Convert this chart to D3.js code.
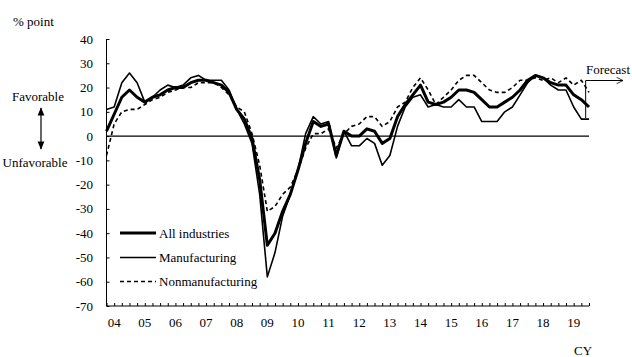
<!DOCTYPE html>
<html><head><meta charset="utf-8">
<script src="https://cdn.jsdelivr.net/npm/d3@7"></script>
<style>
html,body{margin:0;padding:0;background:#fff;}
svg text{font-family:"Liberation Serif","Times New Roman",serif;fill:#000;}
</style></head>
<body><svg id="c" width="632" height="357"></svg>
<script>
// Quarters: Dec 2003 ... Sep 2019 (last = forecast)
const quarters = [];
quarters.push("2003-12");
for (let y = 2004; y <= 2019; y++) for (const m of ["03","06","09","12"]) { if (y === 2019 && m === "12") break; quarters.push(y + "-" + m); }

const allIndustries = [2,
 9,16,19,16, 14,16,17,19, 20,20,22,23, 23,22,21,18, 11,7,-1,-18,
 -45,-40,-31,-24, -14,-3,6,4, 5,-8,2,0, 0,3,2,-3, -1,8,13,17,
 21,14,13,14, 16,19,19,18, 15,12,12,14, 16,19,23,25, 24,22,21,21, 17,15,12];
const manufacturing = [11,
 12,22,26,22, 14,16,19,21, 20,21,24,25, 23,23,23,19, 11,5,-3,-24,
 -58,-48,-33,-24, -14,1,8,5, 6,-9,2,-4, -4,-1,-3,-12, -8,4,12,16,
 17,12,13,12, 12,15,12,12, 6,6,6,10, 12,17,22,25, 24,21,19,19, 12,7,7];
const nonmanufacturing = [-8,
 5,10,11,11, 13,15,16,18, 19,20,20,22, 22,22,20,17, 12,10,1,-12,
 -31,-29,-24,-21, -14,-5,1,1, 3,-5,1,4, 5,8,8,4, 6,12,14,20,
 24,19,13,16, 19,23,25,25, 22,19,18,18, 20,23,23,24, 23,24,22,24, 21,23,18];
const yTicks = [40,30,20,10,0,-10,-20,-30,-40,-50,-60,-70];
const yearLabels = ["04","05","06","07","08","09","10","11","12","13","14","15","16","17","18","19"];
const seriesNames = ["All industries","Manufacturing","Nonmanufacturing"];

const svg = d3.select("#c");
const x = d3.scalePoint().domain(quarters).range([106.5, 589]);
const y = d3.scaleLinear().domain([-70, 40]).range([306, 39]);
const fs = 13;

// y axis
const ya = svg.append("g").attr("transform", "translate(106.5,0)")
  .call(d3.axisRight(y).tickValues(yTicks).tickSize(3).tickFormat(""));
ya.select(".domain").attr("d", `M0,${y(40)}V${y(-70)}`).attr("stroke","#000");
ya.selectAll(".tick line").attr("stroke","#000");
svg.append("g").selectAll("text").data(yTicks).join("text")
  .attr("x", 93).attr("y", d => y(d)).attr("dy","0.35em")
  .attr("text-anchor","end").attr("font-size", fs).text(d => d);

// x axis at bottom
const xa = svg.append("g").attr("transform", `translate(0,${y(-70)})`)
  .call(d3.axisTop(x).tickSize(3).tickFormat("").tickSizeOuter(0));
xa.select(".domain").attr("d", `M106.5,0H589`).attr("stroke","#000");
xa.selectAll(".tick line").attr("stroke","#000");
svg.append("g").selectAll("text").data(yearLabels).join("text")
  .attr("x", (d,i) => x(quarters[1 + 4*i]))
  .attr("y", 322).attr("dy","0.35em").attr("text-anchor","middle")
  .attr("font-size", fs).text(d => d);

// zero line
svg.append("line").attr("x1",106.5).attr("x2",589).attr("y1",y(0)).attr("y2",y(0))
  .attr("stroke","#000").attr("stroke-width",1.2);

// series
const line = d3.line().x((d,i) => x(quarters[i])).y(d => y(d));
const styles = [
  {data: allIndustries, w: 3, dash: null},
  {data: manufacturing, w: 1.6, dash: null},
  {data: nonmanufacturing, w: 1.6, dash: "4,3"}
];
[styles[2], styles[1], styles[0]].forEach(s => {
  svg.append("path").datum(s.data).attr("d", line).attr("fill","none")
    .attr("stroke","#000").attr("stroke-width", s.w)
    .attr("stroke-dasharray", s.dash).attr("stroke-linejoin","round");
});

// legend
const lg = svg.append("g");
[233, 257.5, 281.5].forEach((ly, i) => {
  lg.append("line").attr("x1",120).attr("x2",156).attr("y1",ly).attr("y2",ly)
    .attr("stroke","#000").attr("stroke-width", styles[i].w)
    .attr("stroke-dasharray", styles[i].dash);
  lg.append("text").attr("x",159).attr("y",ly).attr("dy","0.35em")
    .attr("font-size", fs).text(seriesNames[i]);
});

// unit label
svg.append("text").attr("x",13).attr("y",21).attr("dy","0.35em").attr("font-size",fs).text("% point");
svg.append("text").attr("x",38).attr("y",96).attr("dy","0.35em").attr("text-anchor","middle").attr("font-size",fs).text("Favorable");
svg.append("text").attr("x",35).attr("y",162).attr("dy","0.35em").attr("text-anchor","middle").attr("font-size",fs).text("Unfavorable");

// double arrow
const defs = svg.append("defs");
defs.append("marker").attr("id","ah").attr("viewBox","0 0 10 10").attr("refX",9).attr("refY",5)
  .attr("markerWidth",7).attr("markerHeight",7).attr("orient","auto-start-reverse")
  .append("path").attr("d","M0,1L10,5L0,9z").attr("fill","#000");
defs.append("marker").attr("id","oa").attr("viewBox","0 0 10 10").attr("refX",10).attr("refY",5)
  .attr("markerWidth",8).attr("markerHeight",8).attr("markerUnits","userSpaceOnUse").attr("orient","auto")
  .append("path").attr("d","M2,1L10,5L2,9").attr("fill","none").attr("stroke","#000").attr("stroke-width",1);
svg.append("line").attr("x1",41).attr("x2",41).attr("y1",108).attr("y2",149)
  .attr("stroke","#000").attr("stroke-width",1.2)
  .attr("marker-start","url(#ah)").attr("marker-end","url(#ah)");

// forecast marker
const fx = (x(quarters[62]) + x(quarters[63]))/2 + 0.5;
svg.append("line").attr("x1",fx).attr("x2",fx).attr("y1",80.5).attr("y2",118)
  .attr("stroke","#000").attr("stroke-width",1);
svg.append("line").attr("x1",fx).attr("x2",623).attr("y1",80.5).attr("y2",80.5)
  .attr("stroke","#000").attr("stroke-width",1).attr("marker-end","url(#oa)");
svg.append("text").attr("x",586).attr("y",69).attr("dy","0.35em").attr("font-size",fs).text("Forecast");

// CY
svg.append("text").attr("x",583).attr("y",350).attr("dy","0.35em").attr("text-anchor","middle").attr("font-size",fs).text("CY");
</script></body></html>
